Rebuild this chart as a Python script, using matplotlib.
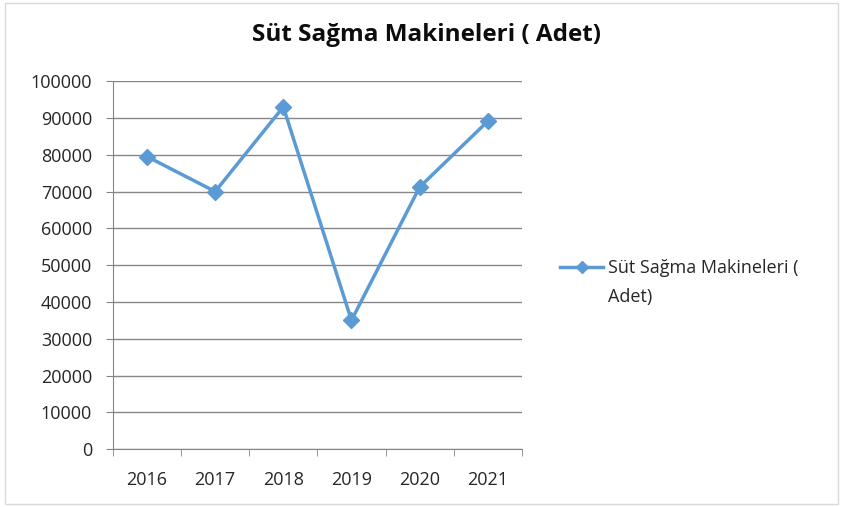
import matplotlib.pyplot as plt
from matplotlib.patches import Rectangle

years = ["2016", "2017", "2018", "2019", "2020", "2021"]
counts = [79500, 70000, 93000, 35000, 71200, 89100]
title = "Süt Sağma Makineleri ( Adet)"
legend_label = "Süt Sağma Makineleri ("
legend_label_2 = "Adet)"

blue = "#5B9BD5"
grid_gray = "#868686"

plt.rcParams['font.family'] = ['Open Sans', 'DejaVu Sans']

fig = plt.figure(figsize=(8.43, 5.07), dpi=100)
ax = fig.add_axes([0.134, 0.114, 0.485, 0.726])

x = list(range(len(years)))
ax.plot(x, counts, color=blue, lw=2.5, marker="D", ms=8,
        label=legend_label)

ax.set_xlim(-0.5, len(years) - 0.5)
ax.set_ylim(0, 100000)
ax.set_yticks(range(0, 100001, 10000))
ax.set_xticks(x)
ax.set_xticklabels(years)
ax.set_xticks([i - 0.5 for i in range(len(years) + 1)], minor=True)
ax.tick_params(axis="x", which="major", length=0, pad=16, labelsize=13,
               labelcolor="#262626")
ax.tick_params(axis="x", which="minor", length=5, color=grid_gray)
ax.tick_params(axis="y", length=5, color=grid_gray, labelsize=13, pad=10,
               labelcolor="#262626")

ax.grid(axis="y", color=grid_gray, lw=1)
ax.set_axisbelow(True)
for side in ["top", "right"]:
    ax.spines[side].set_visible(False)
for side in ["left", "bottom"]:
    ax.spines[side].set_color(grid_gray)

fig.text(0.506, 0.93, title, ha="center", va="center",
         fontsize=17.5, fontweight="bold", color="#0D0D0D")

leg = ax.legend(loc="center left", bbox_to_anchor=(0.645, 0.471),
                bbox_transform=fig.transFigure, frameon=False,
                fontsize=13, handlelength=2.4, handletextpad=0.25,
                labelcolor="#262626", markerscale=0.8)

# second line of the legend label, placed under the first
fig.canvas.draw()
tb = leg.get_texts()[0].get_window_extent()
fig.text(tb.x0 / fig.bbox.width, 1 - 297 / 507, legend_label_2,
         ha="left", va="center", fontsize=13, color="#262626")

fig.patches.append(Rectangle((0.006, 0.006), 0.988, 0.988,
                             transform=fig.transFigure, fill=False,
                             edgecolor="#D9D9D9", lw=1))

fig.savefig("out.png", dpi=100)
